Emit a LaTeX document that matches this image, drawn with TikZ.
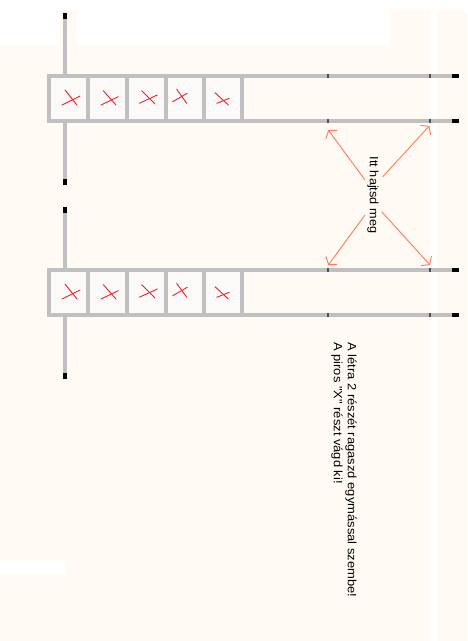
\documentclass[tikz,border=0pt]{standalone}
\usepackage{fontspec}
\usepackage{graphicx}
\usetikzlibrary{arrows.meta}
\newfontfamily\arialf{Liberation Sans}
\definecolor{bg}{HTML}{FFFAF3}
\definecolor{railc}{HTML}{C0C0C0}
\definecolor{tickc}{HTML}{505050}
\definecolor{xred}{HTML}{E8202A}
\definecolor{arrc}{HTML}{FF7A5A}
\definecolor{cellbg}{HTML}{FCFAF8}
\begin{document}
\begin{tikzpicture}[x=1pt,y=-1pt,
  railline/.style={draw=railc,line width=4pt},
  tickline/.style={draw=tickc,line width=1.2pt},
  capbox/.style={fill=black},
  xstroke/.style={draw=xred,line width=0.9pt,line cap=round},
  foldarrow/.style={draw=arrc,line width=0.9pt,-{Straight Barb[length=5pt,width=14pt,line width=0.9pt]}},
  lbl/.style={font=\arialf\fontsize{12}{14}\selectfont,inner sep=0pt,rotate=-90,text=black}]
\fill[bg] (0,0) rectangle (467,641);
\useasboundingbox (0,0) rectangle (467,641);
% faint white patches of the scan
\fill[white] (0,0) rectangle (467,10);
\fill[white] (0,0) rectangle (60,45);
\fill[white] (77,10) rectangle (390,45);
\fill[white] (430,10) rectangle (437,641);
\fill[white] (0,560) rectangle (66,574);
\foreach \o in {0,194}{
\begin{scope}[yshift=-\o pt]
  \draw[draw=railc,line width=3.5pt] (65,13) -- (65,185);
  \fill[capbox] (63.2,13) rectangle (66.8,19);
  \fill[capbox] (63.2,179) rectangle (66.8,185);
  \fill[cellbg] (49,76) rectangle (242,121);
  \draw[railline] (47,76) -- (459,76);
  \draw[railline] (47,121) -- (459,121);
  \draw[railline] (49,74) -- (49,123);
  \foreach \d in {88,127,166,204,242} \draw[railline] (\d,76) -- (\d,121);
  \foreach \t in {328,430}{
    \draw[tickline] (\t,74) -- (\t,78);
    \draw[tickline] (\t,119) -- (\t,123);
  }
  \fill[capbox] (452,74) rectangle (459,78);
  \fill[capbox] (452,119) rectangle (459,123);
  % red crosses
  \draw[xstroke] (65,90) -- (77,105);   \draw[xstroke] (62,105) -- (80,96);
  \draw[xstroke] (103.3,90.7) -- (116,105); \draw[xstroke] (101,105) -- (118.3,96.7);
  \draw[xstroke] (141.7,90.7) -- (155,104); \draw[xstroke] (139.3,103.3) -- (157.3,95);
  \draw[xstroke] (176.7,89.3) -- (186.7,103.3); \draw[xstroke] (172.7,101.7) -- (187.3,93.3);
  \draw[xstroke] (215,92.7) -- (228.3,105); \draw[xstroke] (216.7,103.3) -- (229.3,98.3);
\end{scope}
}
% fold label and arrows
\node[lbl] (fold) at (373,195) {\scalebox{1.06}[1]{Itt hajtsd meg}};
\coordinate (a1s) at (365,180);   \coordinate (a1e) at (328.3,130);
\coordinate (a2s) at (382.7,176.7); \coordinate (a2e) at (429.3,126);
\coordinate (a3s) at (365,215);   \coordinate (a3e) at (328.3,265);
\coordinate (a4s) at (381.7,211.7); \coordinate (a4e) at (430,265);
\draw[foldarrow] (a1s) -- (a1e);
\draw[foldarrow] (a2s) -- (a2e);
\draw[foldarrow] (a3s) -- (a3e);
\draw[foldarrow] (a4s) -- (a4e);
% instructions
\node[lbl,anchor=west] (line1) at (351,342) {\scalebox{1.08}[1]{A létra 2 részét ragaszd egymással szembe!}};
\node[lbl,anchor=west] (line2) at (337,342) {\scalebox{1.08}[1]{A piros "X" részt vágd ki!}};
\end{tikzpicture}
\end{document}
